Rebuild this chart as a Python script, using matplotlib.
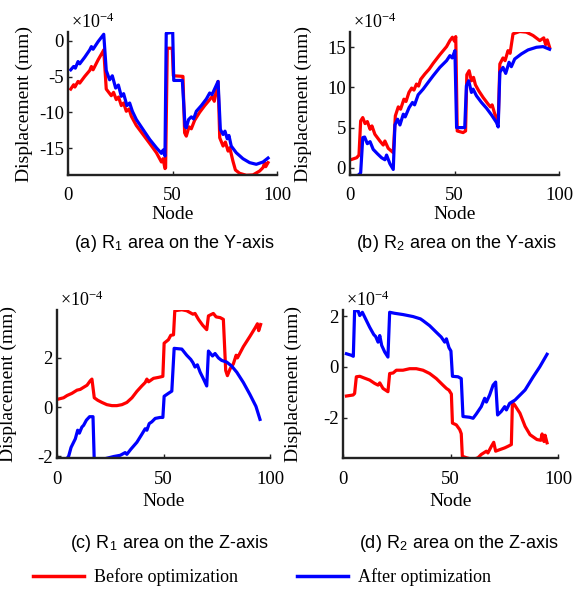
import numpy as np
import matplotlib
matplotlib.use("Agg")
import matplotlib.pyplot as plt
from matplotlib.lines import Line2D

plt.rcParams.update({
    "font.family": "serif",
    "font.serif": ["Liberation Serif", "DejaVu Serif"],
    "mathtext.fontset": "stix",
    "axes.unicode_minus": False,
    "font.size": 13,
})

# displacement values in units of 1e-4 mm (node, value)
a_red_x = [1.3, 2.7, 3.3, 4.8, 5.6, 8.0, 10.4, 11.2, 12.0, 14.4, 16.7, 17.1, 18.3, 20.7, 21.8,
           23.1, 24.2, 25.5, 26.6, 27.9, 29.2, 30.3, 32.7, 35.9, 39.1, 42.3, 44.7, 45.5, 46.4,
           46.7, 47.5, 49.9, 50.4, 55.0, 55.8, 56.6, 57.9, 59.0, 60.6, 63.0, 65.4, 67.8, 69.1,
           70.0, 71.8, 72.6, 74.2, 75.3, 76.6, 77.4, 78.9, 80.1, 82.1, 85.3, 88.5, 91.7, 93.3,
           94.1, 94.6, 95.7]
a_red_y = [-6.74, -6.14, -6.46, -5.68, -5.91, -4.98, -4.15, -3.60, -4.06, -2.68, -1.52, -1.29,
           -6.74, -7.66, -7.20, -8.21, -7.85, -9.04, -8.68, -9.83, -9.51, -10.52, -11.81,
           -13.06, -14.31, -15.60, -16.89, -16.43, -17.81, -17.70, -1.06, -1.06, -4.89, -4.98,
           -12.83, -13.29, -12.00, -12.27, -11.08, -9.97, -9.04, -8.21, -7.75, -8.44, -5.68,
           -13.52, -14.67, -14.12, -15.37, -14.91, -16.75, -18.00, -18.46, -18.74, -18.69,
           -18.14, -17.67, -16.98, -17.54, -16.98]
a_blue_x = [1.3, 2.7, 3.5, 4.8, 5.6, 8.0, 10.4, 11.2, 12.0, 14.4, 17.1, 18.3, 19.9, 21.2, 22.8,
            24.1, 25.5, 26.6, 28.2, 29.5, 30.8, 32.7, 35.9, 39.1, 42.3, 44.7, 45.5, 46.4, 47.0,
            50.1, 50.6, 54.7, 56.0, 56.6, 57.7, 59.0, 60.1, 61.4, 63.8, 66.2, 67.8, 68.9, 71.8,
            72.9, 74.2, 75.1, 76.2, 77.0, 78.1, 80.5, 83.7, 86.9, 90.1, 93.3, 95.7]
a_blue_y = [-4.06, -3.60, -3.83, -2.91, -3.23, -2.31, -1.29, -0.83, -1.20, -0.14, 0.88, -4.15,
            -5.45, -4.89, -6.60, -6.18, -7.75, -7.38, -9.04, -8.68, -9.83, -10.98, -12.37,
            -13.75, -14.91, -15.69, -15.23, -16.06, 1.02, 1.15, -5.54, -5.54, -11.91, -12.14,
            -10.98, -10.61, -10.89, -9.83, -9.04, -8.12, -7.29, -7.52, -5.68, -12.37, -13.06,
            -12.60, -13.66, -13.20, -14.67, -15.60, -16.43, -16.98, -17.21, -16.89, -16.34]

b_red_x = [0.8, 3.2, 4.3, 5.1, 6.1, 7.2, 8.3, 9.6, 10.5, 11.9, 14.3, 15.9, 16.7, 18.3, 20.7,
           21.7, 23.1, 24.2, 25.8, 26.8, 28.2, 29.5, 30.6, 31.8, 32.8, 33.8, 35.8, 37.9, 39.8,
           43.0, 46.2, 47.8, 49.0, 50.0, 50.6, 51.3, 54.1, 55.3, 55.9, 57.0, 58.1, 59.1, 60.0,
           61.6, 63.7, 66.1, 67.2, 68.0, 69.3, 70.9, 71.7, 73.2, 74.2, 75.6, 76.6, 78.0, 81.2,
           84.4, 87.6, 90.8, 92.7, 93.6, 94.4, 95.5]
b_red_y = [1.04, 1.25, 1.58, 5.83, 6.25, 5.50, 5.75, 4.79, 5.21, 4.17, 3.33, 2.83, 3.33, 2.42,
           1.88, 6.46, 7.58, 7.29, 8.54, 8.25, 9.38, 9.92, 9.67, 10.42, 10.17, 11.00, 11.67,
           12.29, 13.00, 14.08, 15.08, 15.83, 16.25, 15.75, 16.33, 4.58, 4.38, 4.58, 11.58,
           12.08, 10.83, 11.25, 10.33, 9.58, 8.75, 7.92, 7.58, 7.83, 6.67, 5.63, 12.92, 13.67,
           13.33, 14.58, 14.25, 16.67, 16.96, 16.88, 16.46, 15.83, 16.17, 15.33, 15.92, 15.00]
b_blue_x = [0.8, 4.0, 5.1, 6.1, 7.0, 8.3, 9.6, 11.1, 13.1, 15.1, 16.7, 17.5, 19.1, 20.7, 21.5,
            22.8, 23.9, 25.5, 26.4, 28.3, 29.9, 30.9, 32.6, 35.0, 37.4, 39.8, 43.0, 46.2, 47.8,
            48.9, 50.2, 51.0, 54.9, 55.7, 56.8, 58.1, 58.9, 60.5, 62.9, 65.3, 67.7, 70.1, 70.9,
            71.7, 73.2, 74.5, 76.1, 77.2, 78.8, 82.0, 85.2, 89.2, 92.4, 95.5]
b_blue_y = [-1.13, -0.92, -0.63, 3.75, 3.83, 3.00, 3.25, 2.29, 1.75, 1.25, 1.00, 1.58, 0.50,
            -0.21, 5.33, 6.04, 5.33, 6.67, 6.33, 7.50, 8.13, 7.83, 9.08, 9.79, 10.63, 11.46,
            12.50, 13.33, 13.96, 13.67, 14.58, 5.00, 5.00, 10.21, 10.83, 9.38, 9.79, 8.96, 8.13,
            7.42, 6.58, 5.63, 5.08, 11.88, 12.50, 11.75, 13.13, 12.58, 13.54, 14.17, 14.67,
            15.00, 15.08, 14.75]

c_red_x = [0.8, 3.1, 4.7, 7.0, 9.4, 10.9, 12.2, 14.1, 15.6, 16.4, 17.5, 19.1, 21.1, 23.4, 25.8,
           28.1, 30.5, 32.8, 35.2, 37.5, 39.8, 41.4, 42.2, 43.0, 45.3, 47.7, 49.7, 50.3, 52.3,
           53.4, 54.7, 55.3, 58.6, 60.9, 63.8, 64.8, 66.4, 68.4, 70.3, 71.1, 73.4, 74.7, 76.6,
           78.1, 79.2, 80.0, 81.3, 82.8, 84.1, 84.7, 87.5, 90.6, 93.0, 94.1, 94.7, 95.6]
c_red_y = [0.33, 0.38, 0.47, 0.56, 0.69, 0.72, 0.79, 0.89, 1.07, 1.14, 0.38, 0.28, 0.19, 0.10,
           0.06, 0.06, 0.10, 0.19, 0.38, 0.64, 0.86, 1.00, 1.14, 1.03, 1.17, 1.21, 1.25, 2.60,
           2.74, 2.92, 2.94, 3.92, 3.96, 3.92, 3.78, 3.81, 3.57, 3.33, 3.15, 3.71, 3.81, 3.67,
           3.64, 3.57, 1.49, 1.28, 1.56, 1.76, 2.11, 2.00, 2.46, 2.88, 3.22, 3.39, 3.11, 3.36]
c_blue_x = [0.8, 3.1, 3.9, 5.5, 6.6, 8.6, 9.7, 10.5, 11.7, 12.5, 13.8, 15.3, 16.9, 17.5, 20.3,
            23.4, 26.6, 29.7, 32.0, 32.8, 34.7, 37.5, 39.8, 41.4, 42.2, 43.3, 44.5, 46.1, 48.4,
            49.7, 50.3, 52.3, 53.9, 55.0, 58.6, 60.9, 62.8, 63.8, 64.8, 65.9, 67.2, 68.8, 70.3,
            71.1, 73.0, 74.2, 75.8, 77.3, 79.7, 82.0, 84.4, 87.5, 90.6, 93.4, 95.3]
c_blue_y = [-2.40, -2.26, -2.19, -1.99, -1.64, -1.29, -0.94, -1.06, -0.81, -0.74, -0.53, -0.39,
            -0.39, -2.22, -2.15, -2.08, -2.01, -1.96, -1.85, -1.92, -1.71, -1.43, -1.11, -0.88,
            -0.94, -0.67, -0.60, -0.46, -0.42, -0.42, 0.44, 0.56, 0.65, 2.39, 2.36, 2.11, 1.94,
            1.81, 1.63, 1.72, 1.42, 1.14, 0.86, 2.28, 2.08, 2.18, 2.00, 1.90, 1.83, 1.67, 1.42,
            1.00, 0.51, 0.03, -0.50]

d_red_x = [1.6, 4.7, 5.4, 6.2, 7.8, 9.3, 12.4, 14.7, 16.3, 17.1, 18.6, 20.9, 21.7, 23.3, 24.8,
           27.9, 31.0, 34.1, 37.2, 40.3, 43.4, 46.5, 48.1, 49.3, 50.4, 50.9, 52.7, 54.3, 55.0,
           55.5, 57.4, 60.5, 62.8, 64.3, 66.7, 67.4, 69.0, 70.1, 71.0, 72.9, 75.2, 76.7, 78.3,
           78.8, 79.8, 82.3, 84.7, 87.0, 90.2, 92.0, 92.6, 93.5, 94.0, 94.9]
d_red_y = [-1.15, -1.11, -1.05, -0.39, -0.37, -0.42, -0.52, -0.65, -0.72, -0.63, -0.85, -0.98,
           -0.26, -0.24, -0.13, -0.13, -0.07, -0.07, -0.13, -0.26, -0.46, -0.72, -0.85, -0.92,
           -1.07, -2.22, -2.29, -2.48, -2.64, -3.53, -3.59, -3.66, -3.59, -3.46, -3.33, -3.40,
           -3.14, -2.98, -3.33, -3.27, -3.20, -3.14, -3.07, -1.40, -1.50, -1.83, -2.35, -2.68,
           -2.87, -2.90, -2.65, -2.95, -2.70, -3.00]
d_blue_x = [1.6, 3.9, 4.8, 5.4, 7.0, 7.8, 9.0, 10.9, 12.4, 14.3, 15.2, 16.3, 17.1, 18.0, 19.4,
            20.9, 21.7, 24.0, 27.9, 32.6, 36.0, 37.2, 40.3, 43.4, 45.7, 47.3, 48.1, 49.3, 50.2,
            50.9, 53.5, 55.0, 55.8, 58.9, 60.5, 62.0, 64.3, 65.9, 66.7, 68.2, 69.8, 71.0, 71.9,
            73.6, 75.2, 76.0, 77.5, 80.0, 84.7, 88.4, 91.5, 94.9]
d_blue_y = [0.52, 0.46, 0.42, 2.22, 2.22, 2.03, 2.16, 1.83, 1.57, 1.28, 1.20, 0.98, 1.24, 0.85,
            0.59, 0.39, 2.16, 2.12, 2.07, 1.99, 1.90, 1.83, 1.63, 1.37, 1.18, 0.98, 1.11, 0.76,
            0.63, -0.37, -0.39, -0.46, -1.96, -1.99, -2.03, -1.86, -1.57, -1.24, -1.39, -1.11,
            -0.72, -0.60, -1.90, -1.76, -1.57, -1.70, -1.44, -1.31, -0.91, -0.40, 0.00, 0.50]

captions = ["(a) R$_\\mathregular{1}$ area on the Y-axis",
            "(b) R$_\\mathregular{2}$ area on the Y-axis",
            "(c) R$_\\mathregular{1}$ area on the Z-axis",
            "(d) R$_\\mathregular{2}$ area on the Z-axis"]
ylims = [(-18.7, 1.2), (-0.9, 16.9), (-2.07, 3.95), (-3.6, 2.25)]
yticks = [[-15, -10, -5, 0], [0, 5, 10, 15], [-2, 0, 2], [-2, 0, 2]]

series = [(a_red_x, a_red_y, a_blue_x, a_blue_y),
          (b_red_x, b_red_y, b_blue_x, b_blue_y),
          (c_red_x, c_red_y, c_blue_x, c_blue_y),
          (d_red_x, d_red_y, d_blue_x, d_blue_y)]

W, H = 580, 590
# axes boxes in pixels: left, right, top, bottom
boxes = [(68, 277, 32, 175), (350, 559, 32, 175), (57, 270, 310, 458), (343, 558, 310, 458)]
ylab_x = [-0.167, -0.18, -0.19, -0.19]
xlab_y = [-0.22, -0.22, -0.235, -0.235]
cap_pos = [(174, 243), (456, 243), (169, 543), (459, 543)]

RED = "#ff0000"
BLUE = "#0000ff"

fig = plt.figure(figsize=(W / 100, H / 100), dpi=100)
for i, (rx, ry, bx, by) in enumerate(series):
    l, r, t, b = boxes[i]
    ax = fig.add_axes([l / W, 1 - b / H, (r - l) / W, (b - t) / H])
    ax.plot(rx, ry, color=RED, lw=2.3, solid_joinstyle="round")
    ax.plot(bx, by, color=BLUE, lw=2.3, solid_joinstyle="round")
    ax.set_xlim(0, 100)
    ax.set_ylim(*ylims[i])
    ax.set_xticks([0, 50, 100])
    ax.set_yticks(yticks[i])
    for s in ("top", "right"):
        ax.spines[s].set_visible(False)
    for s in ("left", "bottom"):
        ax.spines[s].set_linewidth(1.7)
        ax.spines[s].set_color("#222222")
    ax.tick_params(direction="in", length=3, width=1, labelsize=13.5, color="#222222")
    ax.tick_params(axis="x", pad=9)
    ax.tick_params(axis="y", pad=3)
    ax.set_xlabel("Node", fontsize=14)
    ax.xaxis.set_label_coords(0.5, xlab_y[i])
    ax.set_ylabel("Displacement (mm)", fontsize=14)
    ax.yaxis.set_label_coords(ylab_x[i], 0.5)
    ax.text(0.015, 1.0, "×10$^{\\mathregular{-4}}$", transform=ax.transAxes,
            ha="left", va="bottom", fontsize=13)
    cx, cy = cap_pos[i]
    fig.text(cx / W, 1 - cy / H, captions[i], ha="center", va="center",
             fontsize=13, family=["Liberation Sans", "DejaVu Sans"])

handles = [Line2D([], [], color=RED, lw=2.5, label="Before optimization"),
           Line2D([], [], color=BLUE, lw=2.5, label="After optimization")]
fig.legend(handles=handles, loc="center", bbox_to_anchor=(0.452, 1 - 577 / H), ncol=2,
           frameon=False, fontsize=13, handlelength=2.8, columnspacing=3.3,
           handletextpad=0.55)

fig.savefig("out.png", dpi=100)
